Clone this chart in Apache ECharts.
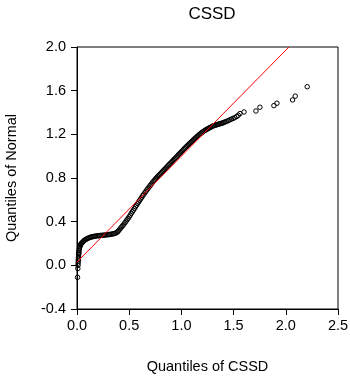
<!DOCTYPE html>
<html>
<head>
<meta charset="utf-8">
<script src="https://cdn.jsdelivr.net/npm/echarts@6/dist/echarts.min.js"></script>
<style>
html,body{margin:0;padding:0;background:#fff;}
#chart{width:350px;height:376px;}
</style>
</head>
<body>
<div id="chart"></div>
<script>
// Sorted sample quantiles of CSSD (x) and matching normal quantiles (y)
const cssdQuantiles = [
  0.005,0.008,0.010,0.011,0.012,0.013,0.014,0.015,0.016,0.017,0.018,0.020,0.022,0.024,0.027,0.030,0.034,0.038,
  0.042,0.048,0.055,0.062,0.070,0.078,0.087,0.096,0.105,0.115,0.125,0.135,0.146,0.157,0.168,0.180,0.192,0.204,
  0.216,0.228,0.240,0.252,0.264,0.276,0.288,0.300,0.312,0.324,0.336,0.348,0.360,0.372,0.384,0.392,
  0.40,0.41,0.42,0.43,0.44,0.45,0.46,0.47,0.48,0.49,0.50,0.51,0.52,0.53,0.54,0.55,0.56,0.57,0.58,0.59,
  0.60,0.61,0.62,0.63,0.64,0.65,0.66,0.67,0.68,0.69,0.70,0.71,0.72,0.73,0.74,0.75,0.76,0.77,0.78,0.79,
  0.80,0.81,0.82,0.83,0.84,0.85,0.86,0.87,0.88,0.89,0.90,0.91,0.92,0.93,0.94,0.95,0.96,0.97,0.98,0.99,
  1.00,1.01,1.02,1.03,1.04,1.05,1.06,1.07,1.08,1.09,1.10,1.11,1.12,1.13,1.14,1.15,1.16,1.17,1.18,1.19,
  1.20,1.21,1.22,1.23,1.24,1.25,1.26,1.27,1.28,1.29,1.30,
  1.31,1.32,1.33,1.34,1.35,1.36,1.37,1.38,1.39,1.40,1.41,1.42,1.435,1.45,1.465,1.48,1.495,1.51,1.53,1.545,
  1.561,1.60,1.714,1.752,1.886,1.915,2.065,2.09,2.205
];
const normalQuantiles = [
  -0.11,-0.03,0.00,0.02,0.04,0.055,0.07,0.085,0.10,0.11,0.12,0.135,0.15,0.16,0.17,0.18,0.19,0.195,
  0.200,0.207,0.214,0.221,0.228,0.234,0.239,0.244,0.248,0.252,0.256,0.259,0.262,0.264,0.266,0.268,0.270,0.271,
  0.272,0.274,0.275,0.276,0.277,0.278,0.280,0.281,0.283,0.285,0.287,0.289,0.292,0.296,0.302,0.310,
  0.320,0.331,0.343,0.355,0.366,0.378,0.391,0.405,0.418,0.431,0.445,0.460,0.476,0.491,0.505,0.520,0.536,0.551,0.566,0.580,
  0.595,0.609,0.623,0.638,0.652,0.665,0.678,0.692,0.705,0.717,0.730,0.742,0.755,0.767,0.778,0.790,0.800,0.811,0.821,0.831,
  0.840,0.850,0.861,0.871,0.880,0.890,0.900,0.911,0.921,0.930,0.940,0.950,0.961,0.971,0.980,0.990,1.000,1.011,1.021,1.030,
  1.040,1.050,1.061,1.071,1.080,1.090,1.099,1.109,1.118,1.126,1.135,1.144,1.154,1.163,1.171,1.180,1.188,1.197,1.205,1.212,
  1.220,1.226,1.233,1.239,1.244,1.250,1.255,1.260,1.265,1.270,1.275,
  1.279,1.282,1.285,1.288,1.291,1.294,1.297,1.300,1.303,1.306,1.310,1.314,1.320,1.326,1.333,1.340,1.346,1.353,1.363,1.375,
  1.390,1.405,1.414,1.448,1.463,1.485,1.515,1.550,1.636
];
// Reference line end points (CSSD, Normal)
const refLineX = [0, 2.03];
const refLineY = [0.03, 2.0];

const xTicks = {min: 0, max: 2.5, interval: 0.5};
const yTicks = {min: -0.4, max: 2.0, interval: 0.4};

const points = cssdQuantiles.map((x, i) => [x, normalQuantiles[i]]);
const line = refLineX.map((x, i) => [x, refLineY[i]]);

const font = 'Liberation Sans, Arial, sans-serif';
const fs = 14.5;
const chart = echarts.init(document.getElementById('chart'), null, {renderer: 'canvas'});
chart.setOption({
  animation: false,
  backgroundColor: '#fff',
  title: {
    text: 'CSSD', left: 207, top: 1, textAlign: 'center',
    textStyle: {fontFamily: font, fontSize: 17, fontWeight: 'normal', color: '#000'}
  },
  grid: {
    left: 77, right: 12, top: 47, bottom: 67, containLabel: false, outerBoundsMode: 'none',
    show: true, borderColor: '#000', borderWidth: 1, backgroundColor: 'transparent'
  },
  xAxis: {
    type: 'value', min: xTicks.min, max: xTicks.max, interval: xTicks.interval,
    name: 'Quantiles of CSSD', nameLocation: 'middle', nameGap: 50,
    nameTextStyle: {fontFamily: font, fontSize: fs, color: '#000'},
    axisLine: {show: true, onZero: false, lineStyle: {color: '#000', width: 1}},
    axisTick: {show: true, length: 6, lineStyle: {color: '#000'}},
    axisLabel: {fontFamily: font, fontSize: fs, color: '#000', margin: 9, formatter: v => v.toFixed(1)},
    splitLine: {show: false}
  },
  yAxis: {
    type: 'value', min: yTicks.min, max: yTicks.max, interval: yTicks.interval,
    name: 'Quantiles of Normal', nameLocation: 'middle', nameGap: 58,
    nameTextStyle: {fontFamily: font, fontSize: fs, color: '#000'},
    axisLine: {show: true, onZero: false, lineStyle: {color: '#000', width: 1}},
    axisTick: {show: true, length: 6, lineStyle: {color: '#000'}},
    axisLabel: {fontFamily: font, fontSize: fs, color: '#000', margin: 11, formatter: v => v.toFixed(1)},
    splitLine: {show: false}
  },
  series: [
    {
      type: 'line', data: line, showSymbol: false, symbol: 'none',
      lineStyle: {color: '#ff0000', width: 1}, z: 3, silent: true
    },
    {
      type: 'scatter', data: points, symbol: 'circle', symbolSize: 4.5,
      itemStyle: {color: 'rgba(255,255,255,0)', borderColor: '#000', borderWidth: 1, opacity: 1},
      z: 2, silent: true
    }
  ]
});
</script>
</body>
</html>
